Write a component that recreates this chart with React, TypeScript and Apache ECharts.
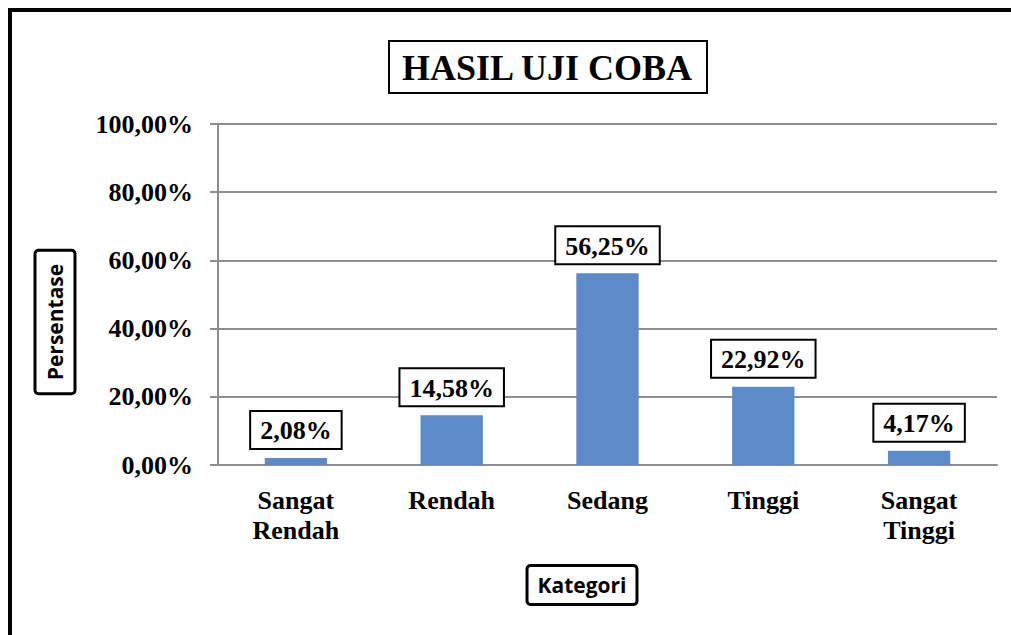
import React, { useEffect, useRef } from "react";
import * as echarts from "echarts";

const categories = ["Sangat\nRendah", "Rendah", "Sedang", "Tinggi", "Sangat\nTinggi"];
const values = [2.08, 14.58, 56.25, 22.92, 4.17];
const yTicks = [0, 20, 40, 60, 80, 100];

const fmt = (v: number) => v.toFixed(2).replace(".", ",") + "%";

export default function App() {
  const ref = useRef<HTMLDivElement>(null);
  useEffect(() => {
    if (!ref.current) return;
    const chart = echarts.init(ref.current, null, { renderer: "svg" });
    const serif = "'Liberation Serif', 'Times New Roman', serif";
    const sans = "'Open Sans', 'Noto Sans', sans-serif";
    chart.setOption({
      animation: false,
      backgroundColor: "#fff",
      title: {
        text: "HASIL UJI COBA",
        left: 389,
        top: 41,
        padding: [8, 13, 6, 13],
        borderColor: "#000",
        borderWidth: 2,
        textStyle: { fontFamily: serif, fontWeight: "bold", fontSize: 36, color: "#000", lineHeight: 38 },
      },
      grid: { left: 218, right: 14, top: 124, bottom: 170 },
      xAxis: {
        type: "category",
        data: categories,
        axisTick: { show: false },
        axisLine: { lineStyle: { color: "#8E8E8E", width: 2 } },
        axisLabel: {
          margin: 20,
          fontFamily: serif,
          fontWeight: "bold",
          fontSize: 26,
          color: "#000",
          lineHeight: 30,
          interval: 0,
        },
      },
      yAxis: {
        type: "value",
        min: yTicks[0],
        max: yTicks[yTicks.length - 1],
        interval: 20,
        axisLine: { show: true, lineStyle: { color: "#8E8E8E", width: 2 } },
        axisTick: { show: true, length: 8, lineStyle: { color: "#8E8E8E", width: 2 } },
        splitLine: { lineStyle: { color: "#8E8E8E", width: 2 } },
        axisLabel: {
          margin: 25,
          formatter: (v: number) => fmt(v),
          fontFamily: serif,
          fontWeight: "bold",
          fontSize: 26,
          color: "#000",
        },
      },
      series: [
        {
          type: "bar",
          data: values,
          barWidth: "40%",
          itemStyle: { color: "#5B8BC8" },
          label: {
            show: true,
            position: "top",
            distance: 10,
            formatter: (p: any) => fmt(p.value),
            fontFamily: serif,
            fontWeight: "bold",
            fontSize: 26,
            color: "#000",
            backgroundColor: "#fff",
            borderColor: "#000",
            borderWidth: 2,
            padding: [6, 9, 4, 9],
            lineHeight: 26,
          },
        },
      ],
      graphic: [
        {
          type: "rect",
          shape: { x: 10, y: 10, width: 1020, height: 640 },
          style: { fill: "none", stroke: "#000", lineWidth: 4 },
          silent: true,
        },
        {
          type: "text",
          x: 55,
          y: 322,
          rotation: Math.PI / 2,
          style: {
            text: "Persentase",
            fontFamily: sans,
            fontWeight: "bold",
            fontSize: 21,
            fill: "#000",
            align: "center",
            verticalAlign: "middle",
            backgroundColor: "#fff",
            borderColor: "#000",
            borderWidth: 3,
            borderRadius: 2,
            padding: [8, 12, 8, 12],
          },
        },
        {
          type: "text",
          x: 582,
          y: 585,
          style: {
            text: "Kategori",
            fontFamily: sans,
            fontWeight: "bold",
            fontSize: 21,
            fill: "#000",
            align: "center",
            verticalAlign: "middle",
            backgroundColor: "#fff",
            borderColor: "#000",
            borderWidth: 3,
            borderRadius: 2,
            padding: [8, 9, 7, 9],
          },
        },
      ],
    });
    return () => chart.dispose();
  }, []);
  return (
    <div
      ref={ref}
      style={{ position: "fixed", left: 0, top: 0, width: 1011, height: 635 }}
    />
  );
}
